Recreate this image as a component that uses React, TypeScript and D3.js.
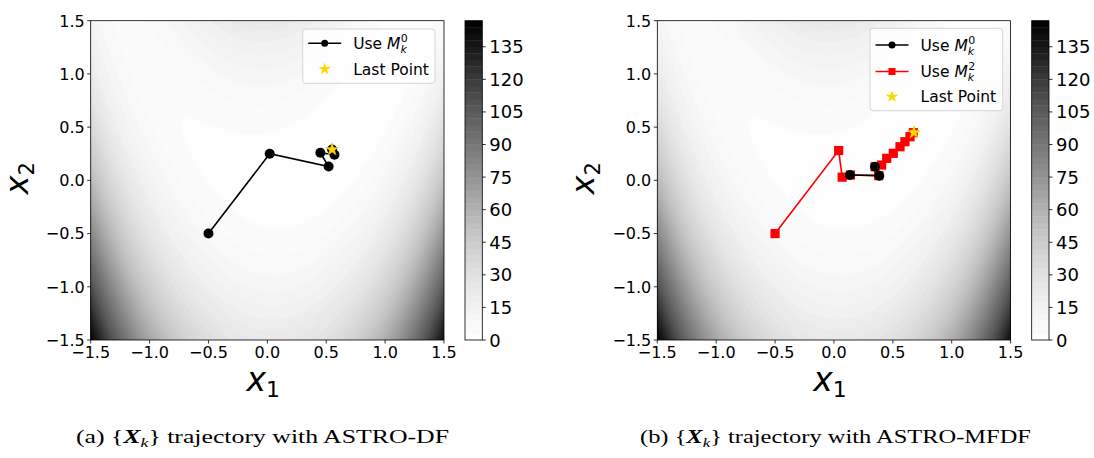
import React from 'react';
import * as d3 from 'd3';

// axis ticks
const axisTicks = [-1.5, -1.0, -0.5, 0.0, 0.5, 1.0, 1.5];
const cbarTicks = [0, 15, 30, 45, 60, 75, 90, 105, 120, 135];
const levelStep = 3;
const levelMax = 147;

// (a) ASTRO-DF trajectory
const dfX = [-0.5, 0.02, 0.52, 0.45, 0.57, 0.55];
const dfY = [-0.5, 0.25, 0.13, 0.26, 0.24, 0.29];
const dfLast = [0.55, 0.29];

// (b) ASTRO-MFDF trajectories
const mfRedX = [-0.5, 0.04, 0.07, 0.14, 0.38, 0.35, 0.405, 0.448, 0.504, 0.561, 0.603, 0.646, 0.674];
const mfRedY = [-0.5, 0.28, 0.03, 0.05, 0.044, 0.128, 0.144, 0.207, 0.254, 0.316, 0.363, 0.41, 0.448];
const mfBlackX = [0.136, 0.385, 0.348];
const mfBlackY = [0.05, 0.044, 0.128];
const mfLast = [0.68, 0.45];

const PLOT_T = 20.7;
const PLOT_B = 340;
const PLOT_W = 353.3;
const CB_W = 17.3;
const N = 240;

// surface being contoured
const surface = (x: number, y: number) => (1 - x) ** 2 + 10 * (y - x * x) ** 2;

const grid: number[] = new Array(N * N);
for (let j = 0; j < N; j++) {
  const y = 1.5 - ((j + 0.5) * 3) / N;
  for (let i = 0; i < N; i++) {
    const x = -1.5 + ((i + 0.5) * 3) / N;
    grid[j * N + i] = surface(x, y);
  }
}
const levels = d3.range(0, levelMax, levelStep);
const bands = d3.contours().size([N, N]).thresholds(levels)(grid);
const gridPath = d3.geoPath();
const bandColor = (t: number) => d3.interpolateGreys((t + levelStep / 2) / levelMax);
const fmt = d3.format('.1f');

const FONT = 'DejaVu Sans, sans-serif';

type Series = { xs: number[]; ys: number[]; color: string; marker: 'circle' | 'square' };
type LegendItem = { kind: 'circle' | 'square' | 'star'; color: string; sup?: string; label?: string };

const starPath = d3.symbol(d3.symbolStar, 52)() as string;
const starPathSmall = d3.symbol(d3.symbolStar, 48)() as string;

function Panel(props: {
  ox: number;
  cbx: number;
  series: Series[];
  last: number[];
  legend: { x: number; y: number; w: number; h: number; rows: number[] };
  items: LegendItem[];
  id: string;
}) {
  const { ox, cbx, series, last, legend, items, id } = props;
  const xs = d3.scaleLinear().domain([-1.5, 1.5]).range([ox, ox + PLOT_W]);
  const ys = d3.scaleLinear().domain([-1.5, 1.5]).range([PLOT_B, PLOT_T]);
  const cs = d3.scaleLinear().domain([0, levelMax]).range([PLOT_B, PLOT_T]);
  const cx = ox + PLOT_W / 2;
  const cy = (PLOT_T + PLOT_B) / 2;

  return (
    <g>
      <defs>
        <clipPath id={'clip-' + id}>
          <rect x={ox} y={PLOT_T} width={PLOT_W} height={PLOT_B - PLOT_T} />
        </clipPath>
      </defs>
      <g clipPath={`url(#clip-${id})`}>
        <rect x={ox} y={PLOT_T} width={PLOT_W} height={PLOT_B - PLOT_T} fill={bandColor(0)} />
        <g transform={`translate(${ox},${PLOT_T}) scale(${PLOT_W / N},${(PLOT_B - PLOT_T) / N})`}>
          {bands.map((b, i) => (
            <path key={i} d={gridPath(b) || ''} fill={bandColor(b.value)} />
          ))}
        </g>
        {series.map((s, k) => {
          const pts = s.xs.map((x, i) => [xs(x), ys(s.ys[i])] as [number, number]);
          return (
            <g key={k}>
              <path d={d3.line()(pts) || ''} fill="none" stroke={s.color} strokeWidth={1.6} />
              {pts.map((p, i) =>
                s.marker === 'circle' ? (
                  <circle key={i} cx={p[0]} cy={p[1]} r={5} fill={s.color} />
                ) : (
                  <rect key={i} x={p[0] - 4.6} y={p[1] - 4.6} width={9.2} height={9.2} fill={s.color} />
                )
              )}
            </g>
          );
        })}
        <path d={starPath} transform={`translate(${xs(last[0])},${ys(last[1])})`} fill="#FFD700" stroke="#e8c000" strokeWidth={0.5} />
      </g>
      <rect x={ox} y={PLOT_T} width={PLOT_W} height={PLOT_B - PLOT_T} fill="none" stroke="#000" strokeWidth={0.8} />

      {/* x ticks */}
      {axisTicks.map((t) => (
        <g key={'x' + t}>
          <line x1={xs(t)} x2={xs(t)} y1={PLOT_B} y2={PLOT_B + 3.5} stroke="#000" strokeWidth={0.8} />
          <text x={xs(t)} y={PLOT_B + 17.5} textAnchor="middle" fontFamily={FONT} fontSize={16}>
            {fmt(t)}
          </text>
        </g>
      ))}
      {/* y ticks */}
      {axisTicks.map((t) => (
        <g key={'y' + t}>
          <line x1={ox - 3.5} x2={ox} y1={ys(t)} y2={ys(t)} stroke="#000" strokeWidth={0.8} />
          <text x={ox - 6} y={ys(t) + 5.8} textAnchor="end" fontFamily={FONT} fontSize={16}>
            {fmt(t)}
          </text>
        </g>
      ))}
      <text x={cx - 4} y={391} textAnchor="middle" fontFamily={FONT} fontSize={33}>
        <tspan fontStyle="italic">x</tspan>
        <tspan fontSize={22} dy={6}>1</tspan>
      </text>
      <text transform={`translate(${ox - 63},${cy - 2}) rotate(-90)`} textAnchor="middle" fontFamily={FONT} fontSize={32}>
        <tspan fontStyle="italic">x</tspan>
        <tspan fontSize={21} dy={6}>2</tspan>
      </text>

      {/* colorbar */}
      {levels.map((t) => (
        <rect key={t} x={cbx} y={cs(t + levelStep)} width={CB_W} height={cs(t) - cs(t + levelStep) + 0.4} fill={bandColor(t)} />
      ))}
      <rect x={cbx} y={PLOT_T} width={CB_W} height={PLOT_B - PLOT_T} fill="none" stroke="#000" strokeWidth={0.8} />
      {cbarTicks.map((t) => (
        <g key={'c' + t}>
          <line x1={cbx + CB_W} x2={cbx + CB_W + 3.5} y1={cs(t)} y2={cs(t)} stroke="#000" strokeWidth={0.8} />
          <text x={cbx + CB_W + 7} y={cs(t) + 6.5} fontFamily={FONT} fontSize={18}>
            {t}
          </text>
        </g>
      ))}

      {/* legend */}
      <rect x={legend.x} y={legend.y} width={legend.w} height={legend.h} rx={3} fill="#fff" fillOpacity={0.8} stroke="#cccccc" strokeWidth={0.8} />
      {items.map((it, i) => {
        const ry = legend.rows[i];
        const hx = legend.x + 5.5;
        const mx = hx + 16.5;
        return (
          <g key={i}>
            {it.kind !== 'star' && <line x1={hx} x2={hx + 33} y1={ry} y2={ry} stroke={it.color} strokeWidth={1.6} />}
            {it.kind === 'circle' && <circle cx={mx} cy={ry} r={3.5} fill={it.color} />}
            {it.kind === 'square' && <rect x={mx - 3.5} y={ry - 3.5} width={7} height={7} fill={it.color} />}
            {it.kind === 'star' && <path d={starPathSmall} transform={`translate(${mx},${ry})`} fill="#FFD700" />}
            <text x={hx + 45} y={ry + 5.5} fontFamily={FONT} fontSize={15.5}>
              {it.label ? (
                it.label
              ) : (
                <>
                  <tspan>Use </tspan>
                  <tspan fontStyle="italic">M</tspan>
                  <tspan fontStyle="italic" fontSize={11} dy={4}>k</tspan>
                  <tspan fontSize={11} dx={-6} dy={-11}>{it.sup}</tspan>
                </>
              )}
            </text>
          </g>
        );
      })}
    </g>
  );
}

function Caption(props: { x: number; tag: string; method: string; len: number }) {
  return (
    <text x={props.x} y={443} fontFamily="Liberation Serif, Times New Roman, serif" fontSize={19} textLength={props.len} lengthAdjust="spacingAndGlyphs">
      <tspan>{`(${props.tag}) {`}</tspan>
      <tspan fontWeight="bold" fontStyle="italic">X</tspan>
      <tspan fontStyle="italic" fontSize={13} dy={4}>k</tspan>
      <tspan dy={-4}>{`} trajectory with ${props.method}`}</tspan>
    </text>
  );
}

export default function App() {
  return (
    <svg width={1094} height={458} style={{ position: 'absolute', left: 0, top: 0, background: '#fff' }}>
      <rect width={1094} height={458} fill="#fff" />
      <Panel
        id="a"
        ox={90.7}
        cbx={465}
        series={[{ xs: dfX, ys: dfY, color: '#000', marker: 'circle' }]}
        last={dfLast}
        legend={{ x: 302.7, y: 29, w: 132.3, h: 54.3, rows: [43.3, 69] }}
        items={[
          { kind: 'circle', color: '#000', sup: '0' },
          { kind: 'star', color: '#FFD700', label: 'Last Point' },
        ]}
      />
      <Panel
        id="b"
        ox={657.3}
        cbx={1031.7}
        series={[
          { xs: mfRedX, ys: mfRedY, color: '#ff0000', marker: 'square' },
          { xs: mfBlackX, ys: mfBlackY, color: '#000', marker: 'circle' },
        ]}
        last={mfLast}
        legend={{ x: 870, y: 28.3, w: 132.7, h: 82.4, rows: [45, 71.5, 96.7] }}
        items={[
          { kind: 'circle', color: '#000', sup: '0' },
          { kind: 'square', color: '#ff0000', sup: '2' },
          { kind: 'star', color: '#FFD700', label: 'Last Point' },
        ]}
      />
      <Caption x={76} tag="a" method="ASTRO-DF" len={373} />
      <Caption x={640} tag="b" method="ASTRO-MFDF" len={391} />
    </svg>
  );
}
